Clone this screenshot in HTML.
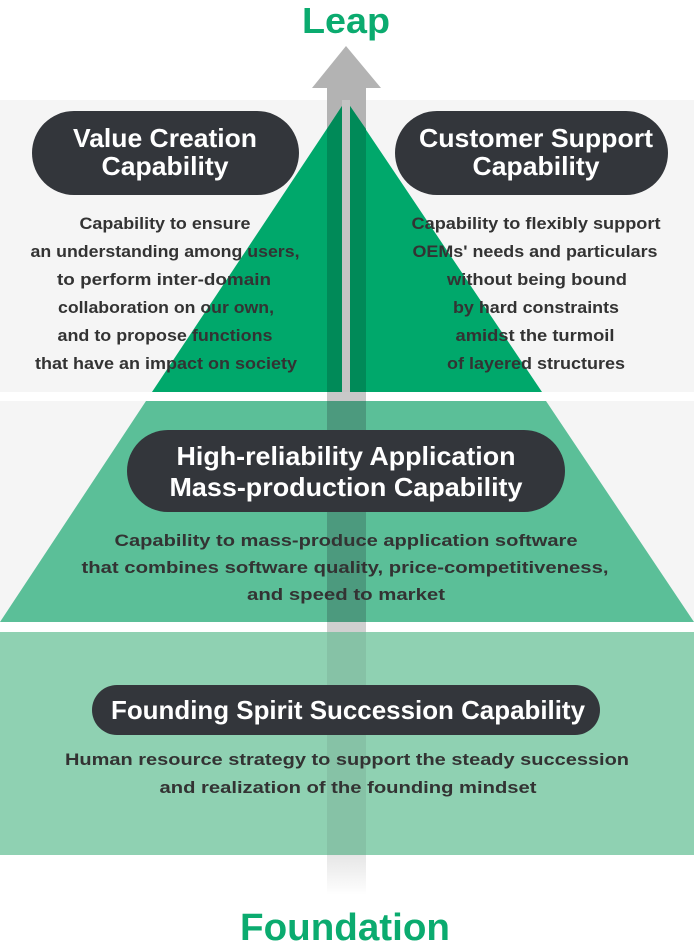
<!DOCTYPE html>
<html><head><meta charset="utf-8"><style>
html,body{margin:0;padding:0;background:#fff;}
svg{display:block;}
text{font-family:"Liberation Sans",sans-serif;}
.p{fill:#fff;font-weight:bold;font-size:26px;}
.d{fill:#333;font-weight:bold;font-size:17px;}
</style></head><body>
<svg width="694" height="945" viewBox="0 0 694 945" xmlns="http://www.w3.org/2000/svg">
<defs>
<linearGradient id="fade" x1="0" y1="0" x2="0" y2="1">
<stop offset="0" stop-color="#e6e6e6"/><stop offset="1" stop-color="#fff"/>
</linearGradient>
</defs>
<rect x="0" y="100" width="694" height="292" fill="#f5f5f5"/>
<rect x="0" y="401" width="694" height="221" fill="#f5f5f5"/>
<rect x="0" y="632" width="694" height="223" fill="#8fd1b2"/>
<polygon points="346,46 381,88 366,88 366,400 327,400 327,88 312,88" fill="#b3b3b3"/>
<polygon points="346,100 542,392 152,392" fill="#00a86b"/>
<polygon points="342,106 342,392 327,392 327,129" fill="#008a58"/>
<polygon points="350,106 366,129 366,392 350,392" fill="#008a58"/>
<rect x="342" y="100" width="8" height="292" fill="#c4c4c4"/>
<polygon points="146,401 546,401 694,622 0,622" fill="#5bbf98"/>
<rect x="327" y="401" width="39" height="221" fill="#4c9a7e"/>
<rect x="327" y="392" width="39" height="9" fill="#c8c8c8"/>
<rect x="327" y="622" width="39" height="10" fill="#d0d0d0"/>
<rect x="327" y="632" width="39" height="223" fill="#86c2a6"/>
<rect x="327" y="855" width="39" height="40" fill="url(#fade)"/>
<rect x="32" y="111" width="267" height="84" rx="42" fill="#33363b"/>
<rect x="395" y="111" width="273" height="84" rx="42" fill="#33363b"/>
<rect x="127" y="430" width="438" height="82" rx="41" fill="#33363b"/>
<rect x="92" y="685" width="508" height="50" rx="25" fill="#33363b"/>
<text x="346" y="33" text-anchor="middle" font-size="36" font-weight="bold" fill="#0bab6f" textLength="88" lengthAdjust="spacingAndGlyphs">Leap</text>
<text x="345" y="940" text-anchor="middle" font-size="38" font-weight="bold" fill="#0bab6f" textLength="210" lengthAdjust="spacingAndGlyphs">Foundation</text>
<text class="p" x="165" y="147" text-anchor="middle" textLength="184" lengthAdjust="spacingAndGlyphs">Value Creation</text>
<text class="p" x="165" y="175" text-anchor="middle" textLength="127" lengthAdjust="spacingAndGlyphs">Capability</text>
<text class="p" x="536" y="147" text-anchor="middle" textLength="234" lengthAdjust="spacingAndGlyphs">Customer Support</text>
<text class="p" x="536" y="175" text-anchor="middle" textLength="127" lengthAdjust="spacingAndGlyphs">Capability</text>
<text class="d" x="165" y="229" text-anchor="middle" textLength="171" lengthAdjust="spacingAndGlyphs">Capability to ensure</text>
<text class="d" x="165" y="257" text-anchor="middle" textLength="269" lengthAdjust="spacingAndGlyphs">an understanding among users,</text>
<text class="d" x="164" y="285" text-anchor="middle" textLength="214" lengthAdjust="spacingAndGlyphs">to perform inter-domain</text>
<text class="d" x="166" y="313" text-anchor="middle" textLength="216" lengthAdjust="spacingAndGlyphs">collaboration on our own,</text>
<text class="d" x="165" y="341" text-anchor="middle" textLength="215" lengthAdjust="spacingAndGlyphs">and to propose functions</text>
<text class="d" x="166" y="369" text-anchor="middle" textLength="262" lengthAdjust="spacingAndGlyphs">that have an impact on society</text>
<text class="d" x="536" y="229" text-anchor="middle" textLength="249" lengthAdjust="spacingAndGlyphs">Capability to flexibly support</text>
<text class="d" x="535" y="257" text-anchor="middle" textLength="245" lengthAdjust="spacingAndGlyphs">OEMs' needs and particulars</text>
<text class="d" x="537" y="285" text-anchor="middle" textLength="180" lengthAdjust="spacingAndGlyphs">without being bound</text>
<text class="d" x="536" y="313" text-anchor="middle" textLength="166" lengthAdjust="spacingAndGlyphs">by hard constraints</text>
<text class="d" x="535" y="341" text-anchor="middle" textLength="159" lengthAdjust="spacingAndGlyphs">amidst the turmoil</text>
<text class="d" x="536" y="369" text-anchor="middle" textLength="178" lengthAdjust="spacingAndGlyphs">of layered structures</text>
<text class="p" x="346" y="465" text-anchor="middle" font-size="25" textLength="339" lengthAdjust="spacingAndGlyphs">High-reliability Application</text>
<text class="p" x="346" y="496" text-anchor="middle" font-size="25" textLength="353" lengthAdjust="spacingAndGlyphs">Mass-production Capability</text>
<text class="d" x="346" y="546" text-anchor="middle" textLength="463" lengthAdjust="spacingAndGlyphs">Capability to mass-produce application software</text>
<text class="d" x="345" y="573" text-anchor="middle" textLength="527" lengthAdjust="spacingAndGlyphs">that combines software quality, price-competitiveness,</text>
<text class="d" x="346" y="600" text-anchor="middle" textLength="198" lengthAdjust="spacingAndGlyphs">and speed to market</text>
<text class="p" x="348" y="719" text-anchor="middle" font-size="25" textLength="474" lengthAdjust="spacingAndGlyphs">Founding Spirit Succession Capability</text>
<text class="d" x="347" y="765" text-anchor="middle" textLength="564" lengthAdjust="spacingAndGlyphs">Human resource strategy to support the steady succession</text>
<text class="d" x="348" y="793" text-anchor="middle" textLength="377" lengthAdjust="spacingAndGlyphs">and realization of the founding mindset</text>
</svg>
</body></html>
